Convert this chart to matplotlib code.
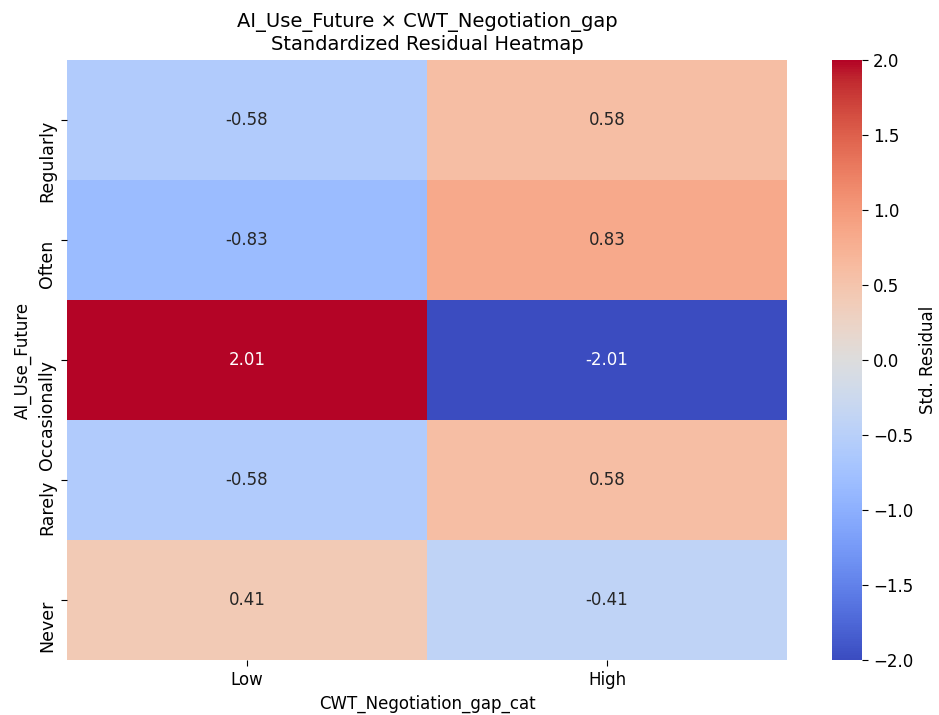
import numpy as np
import matplotlib
matplotlib.use("Agg")
import matplotlib.pyplot as plt
import seaborn as sns

rows = ["Regularly", "Often", "Occasionally", "Rarely", "Never"]
cols = ["Low", "High"]
low_vals = [-0.58, -0.83, 2.01, -0.58, 0.41]
high_vals = [0.58, 0.83, -2.01, 0.58, -0.41]

data = np.column_stack([low_vals, high_vals])

fig, ax = plt.subplots(figsize=(9.39, 7.15), dpi=100)
sns.heatmap(data, ax=ax, cmap="coolwarm", vmin=-2, vmax=2, center=0,
            annot=True, fmt=".2f", xticklabels=cols, yticklabels=rows,
            annot_kws={"fontsize": 12},
            cbar_kws={"ticks": np.arange(-2, 2.01, 0.5)})
ax.set_title("AI_Use_Future × CWT_Negotiation_gap\nStandardized Residual Heatmap",
             fontsize=14, pad=7)
ax.set_xlabel("CWT_Negotiation_gap_cat", fontsize=12)
ax.set_ylabel("AI_Use_Future", fontsize=12)
ax.tick_params(axis="x", labelsize=12, length=4.5)
ax.tick_params(axis="y", labelsize=12.5, length=4.5)
for lbl in ax.get_yticklabels():
    lbl.set_rotation(90)
    lbl.set_va("top")
    lbl.set_ha("right")

cbar = ax.collections[0].colorbar
cbar.ax.tick_params(labelsize=12, length=4.5)
cbar.set_label("Std. Residual", fontsize=12)

ax.set_position([67/939, 1-660/715, (787-67)/939, 600/715])
cbar.ax.set_position([832/939, 1-660/715, 38/939, 600/715])
fig.savefig("out.png", dpi=100)
